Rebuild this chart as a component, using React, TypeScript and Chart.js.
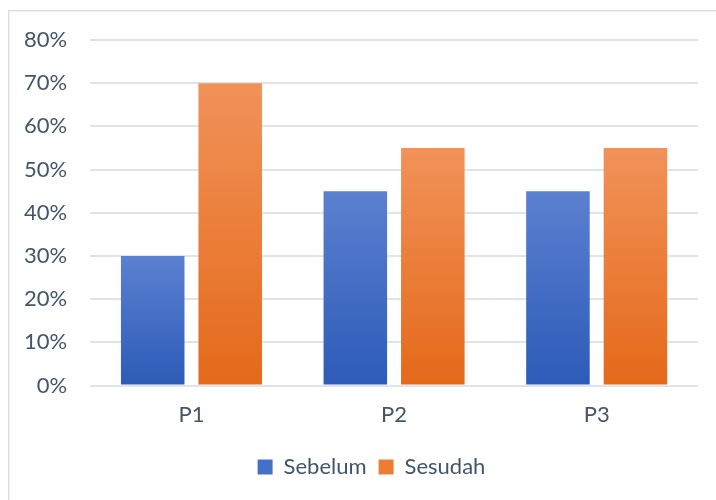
import React, { useEffect, useRef } from "react";
import { Chart, registerables } from "chart.js";

Chart.register(...registerables);

const categories = ["P1", "P2", "P3"];
const seriesNames = ["Sebelum", "Sesudah"];
const sebelum = [30, 45, 45];
const sesudah = [70, 55, 55];
const yTicks = [0, 10, 20, 30, 40, 50, 60, 70, 80];

const TEXT = "#44546A";
const GRID = "#E0E4EA";
const FONT = "Lato";

function gradientFor(top: string, bottom: string, solid: string) {
  return (ctx: any) => {
    const chart = ctx.chart;
    const y = chart.scales && chart.scales.y;
    if (!chart.chartArea || !y || !ctx.parsed) return solid;
    const yTop = y.getPixelForValue(ctx.parsed.y);
    const yBase = y.getPixelForValue(0);
    if (!isFinite(yTop) || !isFinite(yBase) || yTop === yBase) return solid;
    const g = chart.ctx.createLinearGradient(0, yTop, 0, yBase);
    g.addColorStop(0, top);
    g.addColorStop(1, bottom);
    return g;
  };
}

const frame = {
  id: "frame",
  beforeDraw(chart: any) {
    const c = chart.ctx;
    c.save();
    c.fillStyle = "#FFFFFF";
    c.fillRect(0, 0, chart.width, chart.height);
    c.strokeStyle = "#DCDFE4";
    c.lineWidth = 1.5;
    c.strokeRect(8.75, 10.75, chart.width + 20, chart.height + 20);
    c.restore();
  },
};

const legendShift = {
  id: "legendShift",
  afterLayout(chart: any) {
    const lg = chart.legend;
    if (lg) {
      lg.left += 22;
      lg.right += 22;
    }
  },
};

export default function App() {
  const ref = useRef<HTMLCanvasElement>(null);
  useEffect(() => {
    if (!ref.current) return;
    const chart = new Chart(ref.current, {
      type: "bar",
      data: {
        labels: categories,
        datasets: [
          {
            label: seriesNames[0],
            data: sebelum,
            backgroundColor: gradientFor("#5B80D0", "#2D5BB8", "#4472C4"),
            categoryPercentage: 0.765,
            barPercentage: 0.82,
          },
          {
            label: seriesNames[1],
            data: sesudah,
            backgroundColor: gradientFor("#F19259", "#E4691A", "#ED7D31"),
            categoryPercentage: 0.765,
            barPercentage: 0.82,
          },
        ],
      },
      options: {
        responsive: false,
        animation: false,
        layout: { padding: { left: 1, right: 18, top: 40, bottom: 12 } },
        scales: {
          y: {
            min: 0,
            max: 80,
            afterBuildTicks: (s: any) => {
              s.ticks = yTicks.map((v) => ({ value: v }));
            },
            ticks: {
              color: TEXT,
              font: { family: FONT, size: 22 },
              padding: 23,
              callback: (v: any) => `${v}%`,
            },
            grid: { color: GRID, lineWidth: 2, drawTicks: false },
            border: { display: false },
          },
          x: {
            ticks: {
              color: TEXT,
              font: { family: FONT, size: 22 },
              padding: 16,
            },
            grid: { display: false, drawTicks: false },
            border: { display: false },
          },
        },
        plugins: {
          tooltip: { enabled: false },
          legend: {
            position: "bottom",
            labels: {
              color: TEXT,
              font: { family: FONT, size: 22 },
              boxWidth: 15,
              boxHeight: 15,
              padding: 12,
              generateLabels: (ch: any) =>
                ch.data.datasets.map((d: any, i: number) => ({
                  text: d.label,
                  fillStyle: i === 0 ? "#4470C8" : "#EE7D34",
                  strokeStyle: "rgba(0,0,0,0)",
                  lineWidth: 0,
                  hidden: false,
                  datasetIndex: i,
                  fontColor: TEXT,
                })),
            },
          },
        },
      },
      plugins: [frame, legendShift],
    });
    return () => chart.destroy();
  }, []);
  return (
    <div style={{ position: "fixed", left: 0, top: 0, width: 716, height: 500 }}>
      <canvas ref={ref} width={716} height={500} style={{ width: 716, height: 500, display: "block" }} />
    </div>
  );
}
